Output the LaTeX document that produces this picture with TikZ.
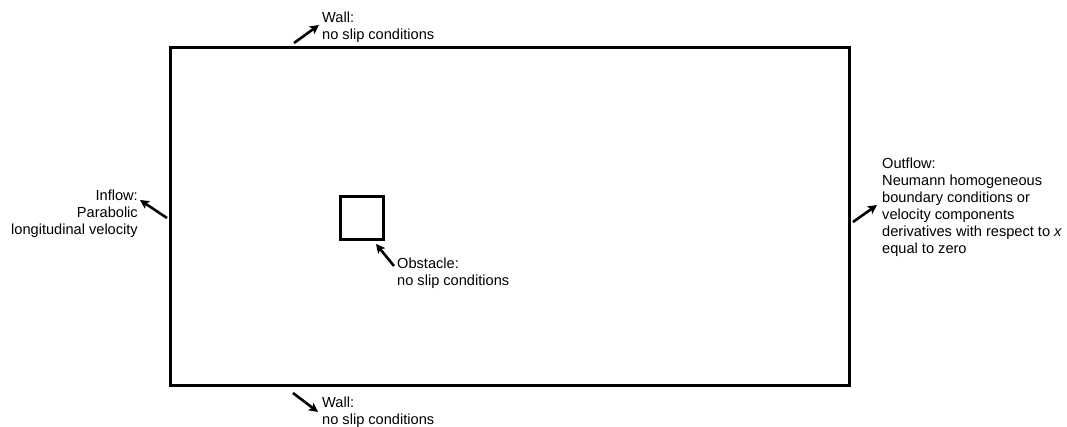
\documentclass[tikz,border=0pt]{standalone}
\usepackage{fontspec}
\setmainfont{Liberation Sans}
\usetikzlibrary{arrows.meta}
\tikzset{
  boundary/.style={draw=black, line width=3pt},
  pointer/.style={draw=black, line width=2.6pt, -{Stealth[length=9pt,width=9pt,inset=2pt]}},
  note/.style={font=\fontsize{14.6}{17}\selectfont, inner sep=0pt, align=left},
}
\begin{document}
\begin{tikzpicture}[x=1pt,y=-1pt]
  \useasboundingbox (0,0) rectangle (1067,427);
  % computational domain and obstacle
  \draw[boundary] (170,48) rectangle (849,385);
  \draw[boundary] (340,197) rectangle (383,240);

  % top wall
  \coordinate (topT) at (294,43);
  \coordinate (topH) at (319,25);
  \draw[pointer] (topT) -- (topH);
  \node[note, anchor=north west] (topwall) at (322,12) {Wall:\\no slip conditions};

  % bottom wall
  \coordinate (botT) at (293,393);
  \coordinate (botH) at (318,412);
  \draw[pointer] (botT) -- (botH);
  \node[note, anchor=north west] (botwall) at (322,397) {Wall:\\no slip conditions};

  % inflow
  \coordinate (inT) at (167,218);
  \coordinate (inH) at (140,200);
  \draw[pointer] (inT) -- (inH);
  \node[note, align=right, anchor=north east] (inflow) at (138,190) {Inflow:\\Parabolic\\longitudinal velocity};

  % obstacle
  \coordinate (obT) at (394,266);
  \coordinate (obH) at (376,244);
  \draw[pointer] (obT) -- (obH);
  \node[note, anchor=north west] (obstacle) at (397,258) {Obstacle:\\no slip conditions};

  % outflow
  \coordinate (outT) at (853,222);
  \coordinate (outH) at (877,205);
  \draw[pointer] (outT) -- (outH);
  \node[note, anchor=north west] (outflow) at (882,158) {Outflow:\\Neumann homogeneous\\boundary conditions or\\velocity components\\derivatives with respect to \textit{x}\\equal to zero};
\end{tikzpicture}
\end{document}
